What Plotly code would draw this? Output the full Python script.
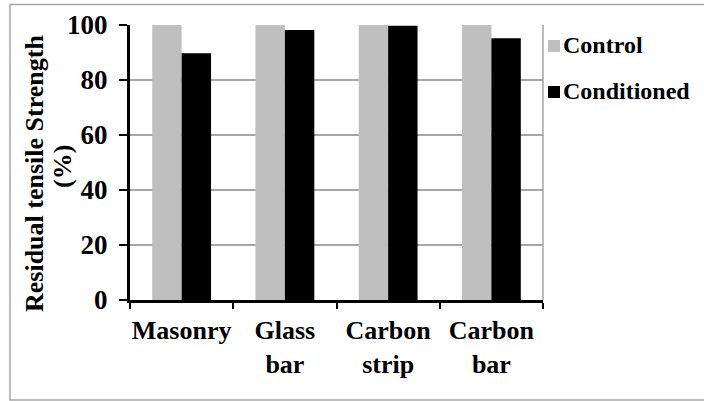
import plotly.graph_objects as go

# Data
categories = ["Masonry", "Glass<br>bar", "Carbon<br>strip", "Carbon<br>bar"]
control = [100, 100, 100, 100]
conditioned = [89.7, 98.2, 99.7, 95.2]

series_names = ["Control", "Conditioned"]
series_colors = ["#BFBFBF", "#000000"]
y_title_lines = ["Residual tensile Strength", "(%)"]


def font(size):
    return dict(family="Liberation Serif, Times New Roman, serif", size=size,
                color="black", weight="bold")


fig = go.Figure()
for name, vals, col in zip(series_names, [control, conditioned], series_colors):
    fig.add_trace(go.Bar(name=name, x=categories, y=vals,
                         marker=dict(color=col, line=dict(width=0)),
                         showlegend=False))

W, H = 704, 401
ml, mr, mt, mb = 130, 161, 25, 101
pw, ph = W - ml - mr, H - mt - mb


def px_x(x):
    return (x - ml) / pw


def px_y(y):
    return (H - mb - y) / ph


shapes = [
    # outer chart border
    dict(type="rect", xref="paper", yref="paper",
         x0=px_x(10), x1=px_x(710), y0=px_y(400), y1=px_y(4.5),
         line=dict(color="#A6A6A6", width=1.5), layer="below"),
    # right edge of plot area
    dict(type="line", xref="paper", yref="paper", x0=1, x1=1, y0=0, y1=1,
         line=dict(color="#A6A6A6", width=1.5), layer="below"),
]

annotations = []
legend_y = [46, 92]
for name, col, yy in zip(series_names, series_colors, legend_y):
    shapes.append(dict(type="rect", xref="paper", yref="paper",
                       x0=px_x(548), x1=px_x(560), y0=px_y(yy + 6), y1=px_y(yy - 6),
                       fillcolor=col, line=dict(width=0)))
    annotations.append(dict(text=name, xref="paper", yref="paper",
                            x=px_x(561), y=px_y(yy - 1), xanchor="left", yanchor="middle",
                            showarrow=False, font=font(24)))

# y-axis title, two rotated lines
for line, cx, cy in zip(y_title_lines, [35, 62], [174, 167]):
    annotations.append(dict(text=line, xref="paper", yref="paper",
                            x=px_x(cx), y=px_y(cy), xanchor="center", yanchor="middle",
                            textangle=-90, showarrow=False, font=font(26)))

fig.update_layout(
    width=W, height=H,
    margin=dict(l=ml, r=mr, t=mt, b=mb, pad=0),
    paper_bgcolor="white", plot_bgcolor="white",
    font=font(24),
    barmode="group", bargap=0.43, bargroupgap=0,
    shapes=shapes, annotations=annotations,
    xaxis=dict(type="category", tickson="boundaries", ticks="outside", ticklen=6,
               tickwidth=2, tickcolor="black", showline=True, linecolor="black",
               linewidth=3, showgrid=False, tickfont=font(26), ticklabelstandoff=5,
               tickangle=0, automargin=False),
    yaxis=dict(range=[0, 100], dtick=20, ticks="outside", ticklen=8, tickwidth=2,
               tickcolor="black", showline=True, linecolor="black", linewidth=3,
               showgrid=True, gridcolor="#A6A6A6", gridwidth=1.5, zeroline=False,
               tickfont=font(27), ticklabelstandoff=6, automargin=False),
)

fig.write_html("out.html")
